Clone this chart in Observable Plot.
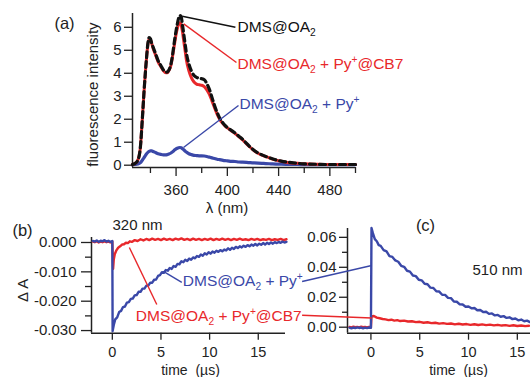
<!DOCTYPE html>
<html><head><meta charset="utf-8">
<script src="https://cdn.jsdelivr.net/npm/d3@7"></script>
<script src="https://cdn.jsdelivr.net/npm/@observablehq/plot@0.6"></script>
<style>
html,body{margin:0;padding:0;background:#fff;}
#chart{position:relative;width:530px;height:377px;overflow:hidden;}
#chart svg{position:absolute;left:0;}
</style></head><body><div id="chart"></div>
<script>
const FONT = '"Liberation Sans", Arial, Helvetica, sans-serif';
const INK = "#222";
const RED = "#e8282b", BLUE = "#3a48a8", BLACK = "#111";

// ---- panel (a): fluorescence spectra ----
const wavelength = [
 326,328,330,332,334,335,336,337,338,339,
 340,341,342,344,346,348,350,352,353,354,
 356,357,358,359,360,361,362,363,364,365,
 366,367,368,370,372,374,376,378,380,382,
 384,386,388,390,392,394,396,398,400,403,
 406,409,412,415,418,421,424,427,430,434,
 438,442,446,450,455,460,470,480,490,500];
const fluoDMS = [
 0.03,0.08,0.2,0.7,2.3,3.2,4.0,4.7,5.3,5.55,
 5.5,5.3,5.15,4.85,4.55,4.35,4.15,4.05,4.05,4.1,
 4.4,4.7,5.1,5.5,5.85,6.15,6.4,6.52,6.45,6.1,
 5.7,5.3,4.9,4.4,4.1,3.9,3.82,3.78,3.76,3.72,
 3.55,3.3,2.95,2.6,2.3,2.05,1.88,1.74,1.64,1.52,
 1.4,1.26,1.12,0.95,0.78,0.64,0.53,0.45,0.38,0.3,
 0.23,0.18,0.14,0.11,0.08,0.06,0.04,0.03,0.03,0.03];
const fluoCB7 = [
 0.03,0.08,0.2,0.7,2.3,3.2,4.0,4.7,5.25,5.5,
 5.45,5.3,5.1,4.8,4.5,4.3,4.12,4.02,4.02,4.08,
 4.35,4.65,5.0,5.35,5.7,5.95,6.15,6.2,6.1,5.8,
 5.4,5.0,4.6,4.1,3.8,3.62,3.53,3.5,3.48,3.42,
 3.28,3.08,2.8,2.5,2.22,2.0,1.84,1.72,1.62,1.5,
 1.38,1.24,1.1,0.93,0.77,0.63,0.52,0.44,0.37,0.29,
 0.22,0.17,0.13,0.1,0.08,0.06,0.04,0.03,0.03,0.03];
const fluoPy = [
 0.02,0.03,0.05,0.1,0.25,0.33,0.42,0.5,0.56,0.6,
 0.62,0.62,0.6,0.55,0.5,0.47,0.45,0.45,0.46,0.48,
 0.53,0.57,0.62,0.67,0.71,0.74,0.76,0.77,0.76,0.72,
 0.67,0.62,0.57,0.5,0.46,0.43,0.42,0.41,0.41,0.4,
 0.38,0.35,0.32,0.29,0.26,0.24,0.22,0.2,0.19,0.17,
 0.16,0.14,0.13,0.12,0.11,0.1,0.09,0.08,0.07,0.06,
 0.05,0.045,0.04,0.035,0.03,0.025,0.02,0.02,0.02,0.02];
const aXDomain = [326, 500], aYDomain = [-0.1, 6.6];
const aXTicks = [360, 400, 440, 480], aXMinor = [340, 380, 420, 460, 500];
const aYTicks = [0, 1, 2, 3, 4, 5, 6];
const aLabels = ["DMS@OA_2", "DMS@OA_2 + Py^+@CB7", "DMS@OA_2 + Py^+"];
const aColors = [BLACK, RED, BLUE];
const aLeadFrom = [[364.8, 6.48], [366.0, 6.15], [365.8, 0.77]];
const aLeadTo = [[406.3, 6.0], [407.1, 4.47], [408.7, 2.6]];
const aLabelAt = [[407.9, 6.03], [407.9, 4.42], [409.5, 2.68]];

// ---- panel (b): transient absorption at 320 nm ----
const b320Py = [
 [-2.0,0.0005],[-1.8,0.0003],[-1.6,0.0007],[-1.4,0.0002],[-1.2,0.0006],[-1.0,0.0004],[-0.8,0.0008],[-0.6,0.0003],[-0.4,0.0006],[-0.2,0.0002],[0.0,0.0005],
 [0.03,-0.0302],[0.15,-0.0281],[0.3,-0.0262],[0.5,-0.0255],[0.7,-0.0237],[0.9,-0.0233],[1.1,-0.0220],[1.3,-0.0218],[1.5,-0.0205],[1.7,-0.0203],
 [1.9,-0.0192],[2.1,-0.0191],[2.3,-0.0180],[2.5,-0.0179],[2.7,-0.0168],[2.9,-0.0168],[3.1,-0.0157],[3.3,-0.0157],[3.5,-0.0147],[3.7,-0.0147],
 [3.9,-0.0137],[4.1,-0.0137],[4.3,-0.0127],[4.5,-0.0126],[4.7,-0.0114],[4.9,-0.0111],[5.1,-0.0101],[5.3,-0.0103],[5.5,-0.0094],[5.7,-0.0096],
 [5.9,-0.0087],[6.1,-0.0090],[6.3,-0.0080],[6.5,-0.0083],[6.7,-0.0073],[6.9,-0.0074],[7.1,-0.0064],[7.3,-0.0067],[7.5,-0.0059],[7.7,-0.0063],
 [7.9,-0.0055],[8.1,-0.0059],[8.3,-0.0051],[8.5,-0.0054],[8.7,-0.0046],[8.9,-0.0049],[9.1,-0.0041],[9.3,-0.0045],[9.5,-0.0037],[9.7,-0.0041],
 [9.9,-0.0033],[10.1,-0.0038],[10.3,-0.0031],[10.5,-0.0035],[10.7,-0.0028],[10.9,-0.0032],[11.1,-0.0026],[11.3,-0.0030],[11.5,-0.0024],[11.7,-0.0027],
 [11.9,-0.0020],[12.1,-0.0025],[12.3,-0.0018],[12.5,-0.0022],[12.7,-0.0015],[12.9,-0.0019],[13.1,-0.0013],[13.3,-0.0017],[13.5,-0.0011],[13.7,-0.0015],
 [13.9,-0.0009],[14.1,-0.0013],[14.3,-0.0007],[14.5,-0.0011],[14.7,-0.0005],[14.9,-0.0010],[15.1,-0.0004],[15.3,-0.0008],[15.5,-0.0002],[15.7,-0.0007],
 [15.9,-0.0001],[16.1,-0.0005],[16.3,0.0000],[16.5,-0.0004],[16.7,0.0001],[16.9,-0.0002],[17.1,0.0002],[17.3,-0.0001],[17.5,0.0003],[17.7,0.0000],[17.9,0.0002]];
const b320CB7 = [
 [-2.0,0.0003],[-1.8,0.0001],[-1.6,0.0004],[-1.4,0.0000],[-1.2,0.0003],[-1.0,0.0001],[-0.8,0.0004],[-0.6,0.0001],[-0.4,0.0003],[-0.2,0.0000],[0.0,0.0003],
 [0.08,-0.0090],[0.15,-0.0058],[0.25,-0.0040],[0.4,-0.0028],[0.6,-0.0018],[0.8,-0.0013],[1.0,-0.0007],[1.2,-0.0006],[1.4,-0.0001],[1.6,-0.0002],
 [1.8,0.0004],[2.0,0.0002],[2.3,0.0008],[2.6,0.0005],[2.9,0.0011],[3.2,0.0007],[3.5,0.0012],[3.8,0.0008],[4.1,0.0013],[4.4,0.0009],
 [4.7,0.0012],[5.0,0.0008],[5.3,0.0013],[5.6,0.0009],[5.9,0.0012],[6.2,0.0008],[6.5,0.0013],[6.8,0.0010],[7.1,0.0014],[7.4,0.0009],
 [7.7,0.0012],[8.0,0.0008],[8.3,0.0013],[8.6,0.0009],[8.9,0.0012],[9.2,0.0008],[9.5,0.0012],[9.8,0.0009],[10.1,0.0013],[10.4,0.0008],
 [10.7,0.0012],[11.0,0.0009],[11.3,0.0013],[11.6,0.0009],[11.9,0.0012],[12.2,0.0008],[12.5,0.0012],[12.8,0.0009],[13.1,0.0013],[13.4,0.0009],
 [13.7,0.0011],[14.0,0.0008],[14.3,0.0012],[14.6,0.0009],[14.9,0.0012],[15.2,0.0008],[15.5,0.0011],[15.8,0.0009],[16.1,0.0012],[16.4,0.0008],
 [16.7,0.0011],[17.0,0.0009],[17.3,0.0012],[17.6,0.0008],[17.9,0.0011]];
const bXDomain = [-2.14, 17.8], bYDomain = [-0.0309, 0.0017];
const bXTicks = [0, 5, 10, 15];
const bYTicks = [0, -0.01, -0.02, -0.03], bYMinor = [-0.005, -0.015, -0.025];
const bLabels = ["DMS@OA_2 + Py^+", "DMS@OA_2 + Py^+@CB7"];
const bColors = [BLUE, RED];
const bLeadFrom = [[5.29, -0.0099], [1.75, -0.0017]];
const bLeadTo = [[7.14, -0.0136], [4.57, -0.0211]];
const bLabelAt = [[7.25, -0.0130], [2.42, -0.0249]];

// ---- panel (c): transient absorption at 510 nm ----
const c510Py = [
 [-2.2,-0.0003],[-2.0,-0.0007],[-1.8,-0.0002],[-1.6,-0.0006],[-1.4,-0.0001],[-1.2,-0.0005],[-1.0,-0.0002],[-0.8,-0.0007],[-0.6,-0.0003],[-0.4,-0.0006],[-0.2,-0.0002],[0.0,-0.0004],
 [0.06,0.0662],[0.2,0.0628],[0.4,0.0588],[0.6,0.0574],[0.8,0.0548],[1.0,0.0543],
 [1.3,0.0515],[1.6,0.0506],[1.9,0.0475],[2.2,0.0469],[2.5,0.0446],[2.8,0.0437],[3.1,0.0410],[3.4,0.0403],[3.7,0.0377],[4.0,0.0371],
 [4.3,0.0345],[4.6,0.0341],[4.9,0.0317],[5.2,0.0313],[5.5,0.0290],[5.8,0.0287],[6.1,0.0264],[6.4,0.0262],[6.7,0.0240],[7.0,0.0238],
 [7.3,0.0217],[7.6,0.0216],[7.9,0.0196],[8.2,0.0194],[8.5,0.0172],[8.8,0.0170],[9.1,0.0153],[9.4,0.0152],[9.7,0.0137],[10.0,0.0138],
 [10.3,0.0126],[10.6,0.0128],[10.9,0.0113],[11.2,0.0115],[11.5,0.0101],[11.8,0.0103],[12.1,0.0089],[12.4,0.0092],[12.7,0.0079],[13.0,0.0082],
 [13.3,0.0070],[13.6,0.0074],[13.9,0.0062],[14.2,0.0066],[14.5,0.0054],[14.8,0.0058],[15.1,0.0046],[15.4,0.0051],[15.7,0.0040],[16.0,0.0044],[16.3,0.0034]];
const c510CB7 = [
 [-2.2,0.0002],[-2.0,-0.0001],[-1.8,0.0003],[-1.6,0.0000],[-1.4,0.0002],[-1.2,-0.0001],[-1.0,0.0003],[-0.8,0.0000],[-0.6,0.0002],[-0.4,-0.0001],[-0.2,0.0002],[0.0,0.0000],
 [0.06,0.0072],[0.3,0.0075],[0.6,0.0064],[0.9,0.0060],[1.2,0.0055],[1.5,0.0052],[1.8,0.0047],[2.1,0.0050],[2.4,0.0044],[2.7,0.0047],
 [3.0,0.0041],[3.4,0.0044],[3.8,0.0038],[4.2,0.0040],[4.6,0.0034],[5.0,0.0036],[5.4,0.0030],[5.8,0.0033],[6.2,0.0027],[6.6,0.0030],
 [7.0,0.0024],[7.4,0.0027],[7.8,0.0022],[8.2,0.0025],[8.6,0.0019],[9.0,0.0023],[9.4,0.0018],[9.8,0.0021],[10.2,0.0016],[10.6,0.0020],
 [11.0,0.0015],[11.4,0.0019],[11.8,0.0014],[12.2,0.0017],[12.6,0.0012],[13.0,0.0016],[13.4,0.0011],[13.8,0.0014],[14.2,0.0009],[14.6,0.0013],
 [15.0,0.0008],[15.4,0.0011],[15.8,0.0007],[16.2,0.0010]];
const cXDomain = [-2.4, 16.35], cYDomain = [-0.004, 0.0659];
const cXTicks = [0, 5, 10, 15];
const cYTicks = [0, 0.02, 0.04, 0.06], cYMinor = [0.01, 0.03, 0.05];
const cColors = [BLUE, RED];
const cLeadFrom = [[-7.05, 0.0305], [-7.05, 0.0080]];
const cLeadTo = [[0.08, 0.0412], [0.08, 0.0061]];

// ---- helpers ----
const pairs = arr => arr.map(([x, y]) => ({x, y}));
const zipXY = (xs, ys) => xs.map((x, i) => ({x, y: ys[i]}));
const idx = n => d3.range(n);
const baseStyle = {fontSize: "15px", fontFamily: FONT, color: INK, background: "transparent", overflow: "visible"};

function applyScripts(svg) {
  svg.querySelectorAll("text").forEach(t => {
    const s = t.textContent;
    if (!/[_^]/.test(s) || t.children.length) return;
    const fs = parseFloat(t.getAttribute("font-size")) || parseFloat(getComputedStyle(t).fontSize) || 15;
    const parts = s.split(/([_^].)/);
    t.textContent = "";
    let shift = 0;
    for (const p of parts) {
      if (!p) continue;
      let target = 0, txt = p, small = false;
      if (p.length === 2 && p[0] === "_") { target = 0.26 * fs; txt = p[1]; small = true; }
      else if (p.length === 2 && p[0] === "^") { target = -0.36 * fs; txt = p[1]; small = true; }
      const ts = document.createElementNS("http://www.w3.org/2000/svg", "tspan");
      ts.setAttribute("dy", (target - shift).toFixed(2));
      shift = target;
      if (small) ts.setAttribute("font-size", (0.66 * fs).toFixed(1));
      ts.textContent = txt;
      t.appendChild(ts);
    }
  });
}

// ---- plot (a) ----
const plotA = Plot.plot({
  width: 530, height: 220, marginLeft: 132, marginRight: 175, marginTop: 13, marginBottom: 53,
  x: {domain: aXDomain}, y: {domain: aYDomain}, color: {type: "identity"},
  style: baseStyle,
  marks: [
    Plot.axisX({ticks: aXTicks, tickSize: 9, tickPadding: 8, tickFormat: d => String(d), label: null, strokeWidth: 1.3}),
    Plot.axisX({ticks: aXMinor, tickSize: 6, tickFormat: () => "", label: null, strokeWidth: 1.3}),
    Plot.axisY({ticks: aYTicks, tickSize: 8, tickPadding: 3, tickFormat: d => String(d), label: null, strokeWidth: 1.3}),
    Plot.ruleX([aXDomain[0]], {stroke: INK, strokeWidth: 1.5}),
    Plot.ruleY([aYDomain[0]], {stroke: INK, strokeWidth: 1.5}),
    Plot.line(zipXY(wavelength, fluoPy), {x: "x", y: "y", stroke: BLUE, strokeWidth: 3.2, curve: "monotone-x"}),
    Plot.line(zipXY(wavelength, fluoCB7), {x: "x", y: "y", stroke: RED, strokeWidth: 3, curve: "monotone-x"}),
    Plot.line(zipXY(wavelength, fluoDMS), {x: "x", y: "y", stroke: BLACK, strokeWidth: 3.2, strokeDasharray: "6,4", curve: "monotone-x"}),
    Plot.link(idx(3), {x1: i => aLeadFrom[i][0], y1: i => aLeadFrom[i][1], x2: i => aLeadTo[i][0], y2: i => aLeadTo[i][1], stroke: i => aColors[i], strokeWidth: 1.4}),
    Plot.text(idx(3), {x: i => aLabelAt[i][0], y: i => aLabelAt[i][1], text: i => aLabels[i], fill: i => aColors[i], textAnchor: "start", lineAnchor: "middle", fontSize: 15.5}),
    Plot.text(["fluorescence intensity"], {frameAnchor: "left", rotate: -90, dx: -39, dy: 4, textAnchor: "middle", lineAnchor: "middle", fill: INK}),
    Plot.text(["(a)"], {frameAnchor: "top-left", dx: -68, dy: 10, textAnchor: "middle", lineAnchor: "middle", fontSize: 16.5, fill: INK}),
    Plot.text(["λ (nm)"], {frameAnchor: "bottom", dx: -17, dy: 41, textAnchor: "middle", lineAnchor: "middle", fill: INK})
  ]
});

// ---- plot (b) ----
const plotB = Plot.plot({
  width: 290, height: 162, marginLeft: 91, marginRight: 5, marginTop: 22, marginBottom: 44.3,
  x: {domain: bXDomain}, y: {domain: bYDomain}, color: {type: "identity"},
  style: baseStyle,
  marks: [
    Plot.axisX({ticks: bXTicks, tickSize: 7, tickPadding: 7, tickFormat: d => String(d), label: null, strokeWidth: 1.3, fontSize: 14.5}),
    Plot.axisY({ticks: bYTicks, tickSize: 10, tickPadding: 5, tickFormat: d => d.toFixed(3), label: null, strokeWidth: 1.3}),
    Plot.axisY({ticks: bYMinor, tickSize: 6, tickFormat: () => "", label: null, strokeWidth: 1.3}),
    Plot.ruleX([bXDomain[0]], {stroke: INK, strokeWidth: 1.5}),
    Plot.ruleY([bYDomain[0]], {stroke: INK, strokeWidth: 1.5}),
    Plot.line(pairs(b320CB7), {x: "x", y: "y", stroke: RED, strokeWidth: 2.4}),
    Plot.line(pairs(b320Py), {x: "x", y: "y", stroke: BLUE, strokeWidth: 2.4}),
    Plot.link(idx(2), {x1: i => bLeadFrom[i][0], y1: i => bLeadFrom[i][1], x2: i => bLeadTo[i][0], y2: i => bLeadTo[i][1], stroke: i => bColors[i], strokeWidth: 1.4}),
    Plot.text(idx(2), {x: i => bLabelAt[i][0], y: i => bLabelAt[i][1], text: i => bLabels[i], fill: i => bColors[i], textAnchor: "start", lineAnchor: "middle", fontSize: 15.5}),
    Plot.text(["(b)"], {frameAnchor: "top-left", dx: -69, dy: -7, textAnchor: "middle", lineAnchor: "middle", fontSize: 16.5, fill: INK}),
    Plot.text(["320 nm"], {frameAnchor: "top-left", dx: 21, dy: -12, textAnchor: "start", lineAnchor: "middle", fill: INK}),
    Plot.text(["Δ A"], {frameAnchor: "left", rotate: -90, dx: -68, dy: 5, textAnchor: "middle", lineAnchor: "middle", fill: INK}),
    Plot.text(["time\u00a0 (µs)"], {frameAnchor: "bottom", dx: 2, dy: 37.5, textAnchor: "middle", lineAnchor: "middle", fontSize: 14, fill: INK})
  ]
});

// ---- plot (c) ----
const plotC = Plot.plot({
  width: 530, height: 162, marginLeft: 347, marginRight: 0, marginTop: 13, marginBottom: 44.3,
  x: {domain: cXDomain}, y: {domain: cYDomain}, color: {type: "identity"},
  style: baseStyle,
  marks: [
    Plot.axisX({ticks: cXTicks, tickSize: 7, tickPadding: 7, tickFormat: d => String(d), label: null, strokeWidth: 1.3, fontSize: 14.5}),
    Plot.axisY({ticks: cYTicks, tickSize: 8, tickPadding: 3, tickFormat: d => d.toFixed(2), label: null, strokeWidth: 1.3}),
    Plot.axisY({ticks: cYMinor, tickSize: 5, tickFormat: () => "", label: null, strokeWidth: 1.3}),
    Plot.ruleX([cXDomain[0]], {stroke: INK, strokeWidth: 1.5}),
    Plot.ruleY([cYDomain[0]], {stroke: INK, strokeWidth: 1.5}),
    Plot.line(pairs(c510CB7), {x: "x", y: "y", stroke: RED, strokeWidth: 2.4}),
    Plot.line(pairs(c510Py), {x: "x", y: "y", stroke: BLUE, strokeWidth: 2.4}),
    Plot.link(idx(2), {x1: i => cLeadFrom[i][0], y1: i => cLeadFrom[i][1], x2: i => cLeadTo[i][0], y2: i => cLeadTo[i][1], stroke: i => cColors[i], strokeWidth: 1.4}),
    Plot.text(["(c)"], {frameAnchor: "top-left", dx: 78, dy: -3, textAnchor: "middle", lineAnchor: "middle", fontSize: 16.5, fill: INK}),
    Plot.text(["510 nm"], {frameAnchor: "top-left", dx: 125, dy: 42, textAnchor: "start", lineAnchor: "middle", fill: INK}),
    Plot.text(["time\u00a0 (µs)"], {frameAnchor: "bottom", dx: 19.5, dy: 37.5, textAnchor: "middle", lineAnchor: "middle", fontSize: 14, fill: INK})
  ]
});

const chart = document.getElementById("chart");
[[plotA, 0], [plotC, 215], [plotB, 215]].forEach(([svg, top]) => {
  svg.style.top = top + "px";
  svg.style.position = "absolute";
  svg.style.left = "0px";
  chart.appendChild(svg);
  applyScripts(svg);
});
</script></body></html>
